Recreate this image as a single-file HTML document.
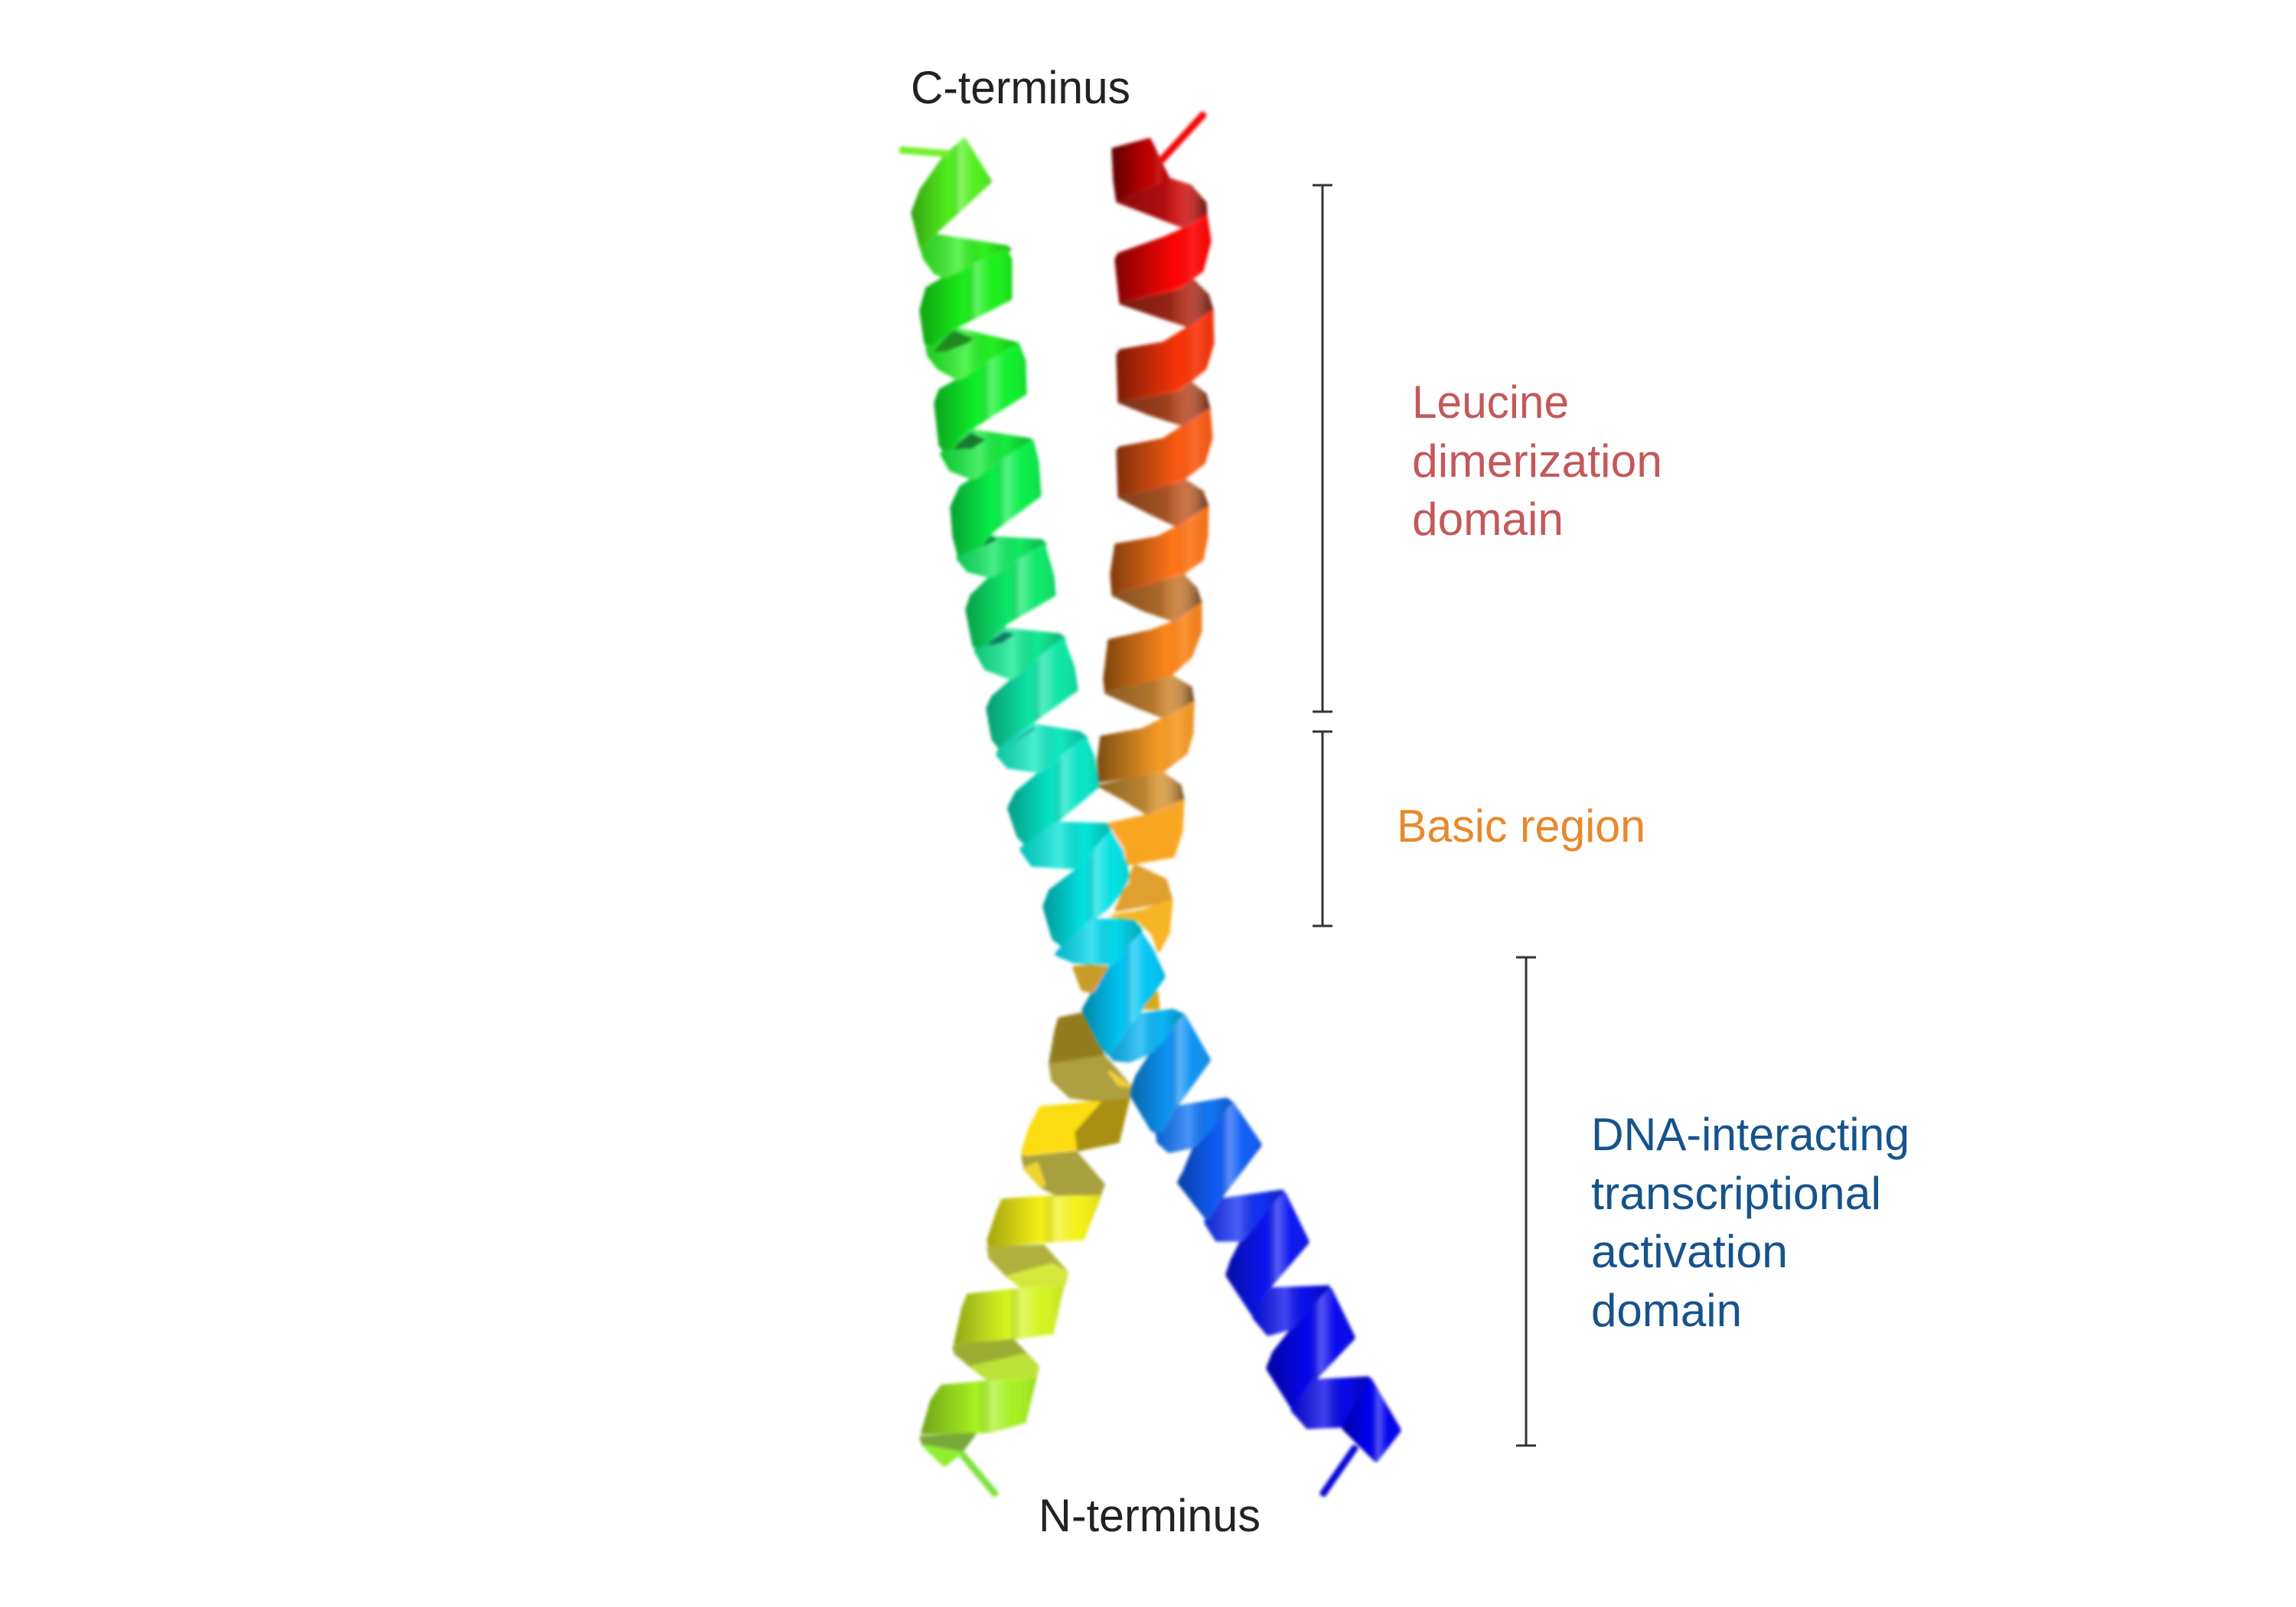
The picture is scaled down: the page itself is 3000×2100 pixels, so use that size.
<!DOCTYPE html>
<html>
<head>
<meta charset="utf-8">
<style>
html,body{margin:0;padding:0;background:#fff}
svg{display:block}
text{font-family:"Liberation Sans",sans-serif;font-size:60px}
</style>
</head>
<body>
<svg xmlns="http://www.w3.org/2000/svg" width="3000" height="2100" viewBox="0 0 3000 2100">
<defs>
<filter id="soft" x="-5%" y="-5%" width="110%" height="110%" color-interpolation-filters="sRGB"><feMorphology operator="dilate" radius="1.5"/><feGaussianBlur stdDeviation="2.2"/></filter>
<linearGradient id="sF"><stop offset="0" stop-color="#000" stop-opacity=".32"/><stop offset=".48" stop-color="#000" stop-opacity="0"/><stop offset=".62" stop-color="#fff" stop-opacity=".3"/><stop offset=".78" stop-color="#fff" stop-opacity="0"/><stop offset="1" stop-color="#000" stop-opacity=".1"/></linearGradient>
<linearGradient id="sB"><stop offset="0" stop-color="#000" stop-opacity=".15"/><stop offset=".42" stop-color="#fff" stop-opacity=".22"/><stop offset=".7" stop-color="#000" stop-opacity="0"/><stop offset="1" stop-color="#000" stop-opacity=".25"/></linearGradient>
<linearGradient id="rF"><stop offset="0" stop-color="#000" stop-opacity=".5"/><stop offset=".65" stop-color="#000" stop-opacity="0"/><stop offset=".82" stop-color="#fff" stop-opacity=".1"/><stop offset="1" stop-color="#000" stop-opacity=".05"/></linearGradient>
<linearGradient id="rB"><stop offset="0" stop-color="#000" stop-opacity=".35"/><stop offset=".55" stop-color="#000" stop-opacity=".15"/><stop offset=".72" stop-color="#fff" stop-opacity=".1"/><stop offset="1" stop-color="#000" stop-opacity=".5"/></linearGradient>

<!-- right helix -->
<polygon id="r0a" points="1454,195 1502,182 1527,234 1460,263 1456,235"/>
<polygon id="r0b" points="1460,263 1527,234 1555,243 1575,266 1576,282 1548,297 1494,276"/>
<polygon id="rf1" points="1576,282 1581,315 1571,353 1540,377 1464,396 1458,340 1462,332 1521,311 1548,299"/>
<polygon id="rb2" points="1464,396 1540,377 1559,367 1578,386 1584,406 1555,427 1502,409"/>
<polygon id="rf2" points="1584,406 1585,448 1575,481 1540,510 1462,525 1460,465 1464,458 1521,448 1555,427"/>
<polygon id="rb3" points="1462,525 1540,510 1555,500 1575,516 1580,535 1548,556 1502,541"/>
<polygon id="rf3" points="1580,535 1583,572 1573,605 1540,630 1462,649 1460,589 1464,585 1521,574 1548,556"/>
<polygon id="rb4" points="1462,649 1548,628 1571,643 1578,663 1540,688 1502,670"/>
<polygon id="rf4" points="1578,663 1577,700 1571,731 1544,750 1454,777 1452,750 1458,712 1514,702 1540,688"/>
<polygon id="rb5" points="1454,777 1544,750 1563,770 1569,789 1537,812 1494,797"/>
<polygon id="rf5" points="1569,789 1569,824 1556,858 1529,882 1445,905 1443,887 1449,837 1506,824 1537,812"/>
<polygon id="rb6" points="1445,905 1531,884 1556,899 1559,918 1523,938 1487,924"/>
<polygon id="rf6" points="1559,918 1558,957 1550,984 1517,1009 1437,1021 1435,994 1439,963 1494,953 1523,938"/>
<polygon id="rb7" points="1437,1027 1517,1009 1542,1027 1546,1046 1502,1065 1468,1044"/>
<polygon id="rf7" points="1546,1046 1544,1085 1533,1119 1475,1129 1449,1077 1502,1065"/>
<polygon id="rb8" points="1483,1131 1523,1150 1531,1177 1458,1190"/>
<polygon id="rf8" points="1531,1177 1527,1218 1514,1243 1506,1220 1487,1202 1452,1197 1494,1190"/>
<polygon id="yb1" points="1403,1264 1449,1260 1429,1297 1414,1293"/>
<polygon id="yf0" points="1384,1331 1413,1325 1442,1380 1372,1389 1379,1349"/>
<polygon id="yb2" points="1372,1391 1442,1380 1477,1420 1475,1434 1432,1438 1399,1434 1375,1411"/>
<polygon id="yf1" points="1360,1447 1437,1440 1403,1478 1406,1503 1341,1510 1336,1505 1346,1474"/>
<polygon id="yd1" points="1437,1440 1475,1434 1461,1492 1408,1503 1403,1478"/>
<polygon id="yb3" points="1336,1510 1403,1503 1442,1548 1437,1561 1384,1563 1360,1550 1339,1527"/>
<polygon id="yf2" points="1310,1568 1365,1564 1437,1563 1415,1619 1293,1628 1291,1621 1303,1585"/>
<polygon id="yb4" points="1291,1630 1363,1628 1394,1663 1391,1679 1341,1686 1317,1668 1293,1643"/>
<polygon id="yf3" points="1265,1692 1389,1679 1375,1742 1332,1748 1248,1755 1258,1710"/>
<polygon id="yb5" points="1246,1759 1322,1750 1356,1786 1353,1800 1298,1808 1270,1786 1248,1768"/>
<polygon id="yf4" points="1231,1811 1353,1800 1339,1858 1293,1871 1205,1873 1217,1831"/>

<!-- left helix -->
<polygon id="f0" points="1260,182 1294,237 1221,305 1213,319 1203,323 1192,278 1203,249 1234,205"/>
<polygon id="b1" points="1221,307 1314,322 1320,326 1238,363 1222,357 1207,336 1203,319"/>
<polygon id="f1" points="1314,326 1321,340 1321,390 1249,427 1219,454 1209,448 1203,406 1211,377 1234,363"/>
<polygon id="b2" points="1247,429 1326,448 1332,452 1253,496 1226,481 1213,464 1211,454"/>
<polygon id="f2" points="1330,450 1339,473 1340,514 1268,560 1238,593 1228,581 1222,527 1228,510 1253,496"/>
<polygon id="b3" points="1268,562 1345,574 1349,578 1272,626 1242,614 1230,593"/>
<polygon id="f3" points="1349,576 1356,605 1359,647 1299,692 1280,715 1253,727 1246,700 1243,663 1255,637 1272,626"/>
<polygon id="b4" points="1253,727 1295,702 1360,706 1366,712 1295,754 1265,746 1251,729"/>
<polygon id="f4" points="1364,712 1376,754 1378,777 1315,814 1282,849 1272,843 1263,797 1269,779 1295,754"/>
<polygon id="b5" points="1282,847 1311,822 1383,829 1391,835 1322,887 1288,874 1274,849"/>
<polygon id="f5" points="1389,835 1403,874 1407,901 1353,940 1307,978 1297,965 1290,926 1297,911 1322,889"/>
<polygon id="b6" points="1307,978 1349,947 1410,957 1420,965 1360,1009 1318,1003 1303,986"/>
<polygon id="f6" points="1418,965 1429,990 1435,1027 1383,1071 1341,1104 1330,1092 1318,1056 1328,1036 1360,1009"/>
<polygon id="b7" points="1341,1104 1380,1075 1445,1077 1454,1085 1410,1135 1349,1131 1334,1110"/>
<polygon id="f7" points="1452,1085 1468,1110 1475,1152 1448,1185 1387,1235 1376,1226 1364,1185 1372,1164 1410,1135"/>
<polygon id="b8" points="1387,1239 1426,1202 1479,1202 1491,1216 1452,1262 1403,1257 1380,1247"/>
<polygon id="f8" points="1491,1220 1506,1243 1521,1276 1490,1320 1449,1378 1437,1365 1415,1320 1426,1301 1452,1262"/>
<polygon id="b9" points="1449,1376 1480,1327 1532,1320 1547,1327 1506,1374 1475,1387 1456,1385"/>
<polygon id="f9" points="1547,1327 1580,1385 1537,1445 1518,1478 1506,1478 1477,1429 1485,1407 1506,1374"/>
<polygon id="b10" points="1511,1478 1535,1447 1602,1436 1611,1443 1561,1498 1528,1505 1513,1492"/>
<polygon id="f10" points="1611,1443 1647,1496 1599,1559 1578,1594 1540,1545 1547,1532 1561,1498"/>
<polygon id="b11" points="1575,1597 1592,1568 1676,1556 1623,1621 1590,1621"/>
<polygon id="f11" points="1678,1559 1709,1623 1659,1681 1638,1719 1603,1666 1609,1648 1623,1621"/>
<polygon id="b12" points="1638,1721 1657,1684 1736,1681 1690,1735 1657,1744"/>
<polygon id="f12" points="1738,1684 1769,1748 1716,1804 1690,1842 1656,1788 1664,1768 1690,1735"/>
<polygon id="b13" points="1688,1842 1716,1804 1788,1800 1752,1864 1709,1866"/>
<polygon id="f13" points="1790,1802 1829,1869 1798,1909 1755,1866"/>
</defs>

<g filter="url(#soft)">
<!-- right helix -->
<line x1="1517" y1="210" x2="1573" y2="149" stroke="#f00808" stroke-width="5"/>
<use href="#r0b" fill="#d01010"/><use href="#r0b" fill="url(#rB)"/>
<use href="#r0a" fill="#c00000"/><use href="#r0a" fill="url(#rF)"/>
<use href="#rb2" fill="#b02a18"/><use href="#rb2" fill="url(#rB)"/>
<use href="#rb3" fill="#b84a22"/><use href="#rb3" fill="url(#rB)"/>
<use href="#rb4" fill="#c0602a"/><use href="#rb4" fill="url(#rB)"/>
<use href="#rb5" fill="#c87a30"/><use href="#rb5" fill="url(#rB)"/>
<use href="#rb6" fill="#d08a34"/><use href="#rb6" fill="url(#rB)"/>
<use href="#rb7" fill="#d89a38"/><use href="#rb7" fill="url(#rB)"/>
<use href="#rb8" fill="#e0a030"/>
<use href="#rf1" fill="#ff0404"/><use href="#rf1" fill="url(#rF)"/>
<use href="#rf2" fill="#f83408"/><use href="#rf2" fill="url(#rF)"/>
<use href="#rf3" fill="#fa5a12"/><use href="#rf3" fill="url(#rF)"/>
<use href="#rf4" fill="#ff7518"/><use href="#rf4" fill="url(#rF)"/>
<use href="#rf5" fill="#fb851a"/><use href="#rf5" fill="url(#rF)"/>
<use href="#rf6" fill="#f69a24"/><use href="#rf6" fill="url(#rF)"/>
<use href="#rf7" fill="#f8a622"/>
<use href="#rf8" fill="#f5b524"/>
<use href="#yb1" fill="#c89c28"/>
<polygon points="1494,1318 1512,1297 1514,1318" fill="#d8a81c"/>
<use href="#yf0" fill="#927c1e"/>
<use href="#yb2" fill="#ad9e40"/>
<polygon points="1449,1400 1477,1420 1462,1418" fill="#f0d020"/>
<use href="#yd1" fill="#a88f12"/>
<use href="#yf1" fill="#fbdc10"/>
<use href="#yb3" fill="#a8a03e"/>
<polygon points="1339,1527 1355,1520 1365,1548 1360,1550" fill="#ecd428"/>
<use href="#yf2" fill="#f2f014"/><use href="#yf2" fill="url(#sF)"/>
<use href="#yb4" fill="#b0b03c"/>
<polygon points="1317,1668 1375,1652 1394,1663 1391,1679 1341,1686" fill="#d4e83c"/>
<use href="#yf3" fill="#d4f420"/><use href="#yf3" fill="url(#sF)"/>
<use href="#yb5" fill="#9cae32"/>
<polygon points="1270,1786 1340,1770 1356,1786 1353,1800 1298,1808" fill="#bce238"/>
<use href="#yf4" fill="#a6f020"/><use href="#yf4" fill="url(#sF)"/>
<polygon points="1203,1878 1274,1873 1255,1898 1207,1889" fill="#78a838"/>
<polygon points="1207,1889 1255,1898 1234,1915" fill="#90ee30"/>
<line x1="1255" y1="1898" x2="1301" y2="1953" stroke="#80e040" stroke-width="5"/>

<!-- left helix -->
<line x1="1177" y1="196" x2="1240" y2="201" stroke="#70f028" stroke-width="6"/>
<use href="#b1" fill="#30ee20"/><use href="#b1" fill="url(#sB)"/>
<use href="#b2" fill="#22f022"/><use href="#b2" fill="url(#sB)"/>
<polygon points="1215,462 1244,429 1276,442 1265,450 1238,460" fill="#1f8a20"/>
<use href="#b3" fill="#14ea3c"/><use href="#b3" fill="url(#sB)"/>
<polygon points="1238,589 1268,564 1291,574 1272,587" fill="#167a30"/>
<use href="#b4" fill="#10e860"/><use href="#b4" fill="url(#sB)"/>
<polygon points="1253,727 1295,702 1310,704 1270,722" fill="#0e7a3c"/>
<use href="#b5" fill="#10e890"/><use href="#b5" fill="url(#sB)"/>
<polygon points="1280,847 1311,824 1330,828 1311,841" fill="#0f7a60"/>
<use href="#b6" fill="#10e8c0"/><use href="#b6" fill="url(#sB)"/>
<polygon points="1309,978 1349,949 1357,951 1322,974" fill="#0c7a6a"/>
<use href="#b7" fill="#04e4d8"/><use href="#b7" fill="url(#sB)"/>
<use href="#b8" fill="#04d8ec"/><use href="#b8" fill="url(#sB)"/>
<use href="#b9" fill="#08b4f4"/><use href="#b9" fill="url(#sB)"/>
<use href="#b10" fill="#1074f4"/><use href="#b10" fill="url(#sB)"/>
<use href="#b11" fill="#1230f4"/><use href="#b11" fill="url(#sB)"/>
<use href="#b12" fill="#0a10ee"/><use href="#b12" fill="url(#sB)"/>
<use href="#b13" fill="#0808e8"/><use href="#b13" fill="url(#sB)"/>
<use href="#f0" fill="#50ee1c"/><use href="#f0" fill="url(#sF)"/>
<use href="#f1" fill="#18ee18"/><use href="#f1" fill="url(#sF)"/>
<use href="#f2" fill="#0ef02a"/><use href="#f2" fill="url(#sF)"/>
<use href="#f3" fill="#08ee48"/><use href="#f3" fill="url(#sF)"/>
<use href="#f4" fill="#0ce868"/><use href="#f4" fill="url(#sF)"/>
<use href="#f5" fill="#0ce4a4"/><use href="#f5" fill="url(#sF)"/>
<use href="#f6" fill="#04e4c4"/><use href="#f6" fill="url(#sF)"/>
<use href="#f7" fill="#00e0e0"/><use href="#f7" fill="url(#sF)"/>
<use href="#f8" fill="#00c4f4"/><use href="#f8" fill="url(#sF)"/>
<use href="#f9" fill="#0c92f2"/><use href="#f9" fill="url(#sF)"/>
<use href="#f10" fill="#0e5cf4"/><use href="#f10" fill="url(#sF)"/>
<use href="#f11" fill="#0a14f0"/><use href="#f11" fill="url(#sF)"/>
<use href="#f12" fill="#0606ec"/><use href="#f12" fill="url(#sF)"/>
<use href="#f13" fill="#0000f0"/><use href="#f13" fill="url(#sF)"/>
<line x1="1771" y1="1891" x2="1728" y2="1953" stroke="#0808d8" stroke-width="5"/>
</g>

<!-- brackets -->
<g stroke="#333" stroke-width="3" fill="none">
<path d="M1728 242V930M1715 242H1741M1715 930H1741"/>
<path d="M1728 956V1210M1715 956H1741M1715 1210H1741"/>
<path d="M1994 1251V1889M1981 1251H2007M1981 1889H2007"/>
</g>

<!-- labels -->
<text x="1190" y="135" fill="#222" textLength="287" lengthAdjust="spacingAndGlyphs">C-terminus</text>
<text x="1357" y="2001" fill="#222" textLength="290" lengthAdjust="spacingAndGlyphs">N-terminus</text>
<g fill="#c4585a">
<text x="1845" y="546" textLength="205" lengthAdjust="spacingAndGlyphs">Leucine</text>
<text x="1845" y="623" textLength="327" lengthAdjust="spacingAndGlyphs">dimerization</text>
<text x="1845" y="699" textLength="198" lengthAdjust="spacingAndGlyphs">domain</text>
</g>
<text x="1825" y="1100" fill="#e8892c" textLength="325" lengthAdjust="spacingAndGlyphs">Basic region</text>
<g fill="#16538c">
<text x="2079" y="1503" textLength="416" lengthAdjust="spacingAndGlyphs">DNA-interacting</text>
<text x="2079" y="1580" textLength="379" lengthAdjust="spacingAndGlyphs">transcriptional</text>
<text x="2079" y="1656" textLength="257" lengthAdjust="spacingAndGlyphs">activation</text>
<text x="2079" y="1733" textLength="197" lengthAdjust="spacingAndGlyphs">domain</text>
</g>
</svg>
</body>
</html>
